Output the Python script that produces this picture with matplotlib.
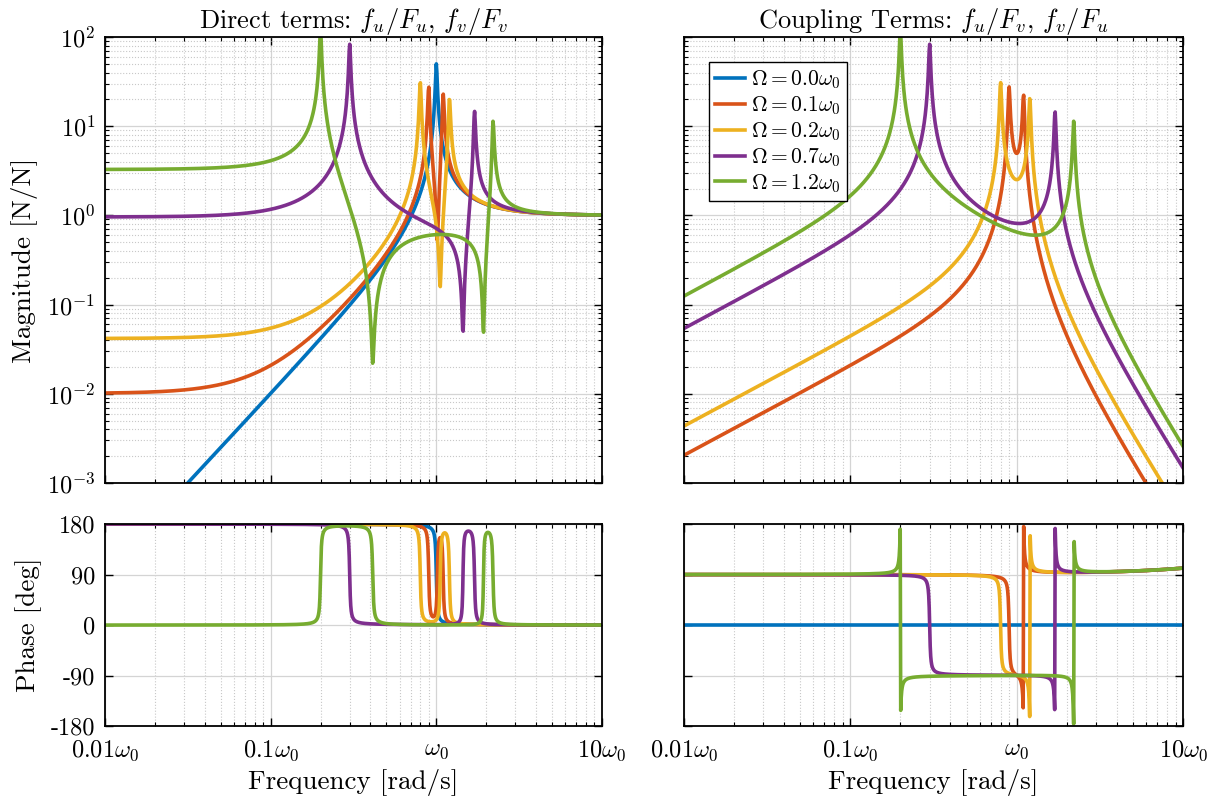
import numpy as np
import matplotlib.pyplot as plt
from matplotlib.ticker import LogLocator, FixedLocator, NullFormatter, FixedFormatter

plt.rcParams['font.family'] = 'serif'
plt.rcParams['font.serif'] = ['cmr10']
plt.rcParams['mathtext.fontset'] = 'cm'
plt.rcParams['axes.unicode_minus'] = False
plt.rcParams['axes.formatter.use_mathtext'] = True

# NOTE: the curves are not digitized points. They are computed from the
# rotating-frame force transfer functions, using parameters
# (the rotation speeds in the legend, damping ~1% from the 50x peak at w0).
omegas = [0.0, 0.1, 0.2, 0.7, 1.2]
xi = 0.01
labels = [r'$\Omega = 0.0\omega_0$', r'$\Omega = 0.1\omega_0$', r'$\Omega = 0.2\omega_0$',
          r'$\Omega = 0.7\omega_0$', r'$\Omega = 1.2\omega_0$']
colors = ['#0072BD', '#D95319', '#EDB120', '#7E2F8E', '#77AC30']

freq_ticks = [0.01, 0.1, 1, 10]
freq_labels = [r'$0.01\omega_0$', r'$0.1\omega_0$', r'$\omega_0$', r'$10\omega_0$']
phase_ticks = [-180, -90, 0, 90, 180]
phase_labels = ['-180', '-90', '0', '90', '180']

w = np.logspace(-2, 1, 1000)
s = 1j * w


def force_tf(W):
    a = s**2 + 2*xi*s + 1 - W**2
    D = a**2 + (2*W*s)**2
    Gd = 1 - (1 + 2*xi*s) * a / D
    Gc = (1 + 2*xi*s) * (2*W*s) / D
    return Gd, Gc


fig = plt.figure(figsize=(12.21, 8.05), dpi=100)
ax_md = fig.add_axes([0.086, 0.400, 0.407, 0.554])
ax_mc = fig.add_axes([0.560, 0.400, 0.409, 0.554])
ax_pd = fig.add_axes([0.086, 0.098, 0.407, 0.251])
ax_pc = fig.add_axes([0.560, 0.098, 0.409, 0.251])

for W, lab, c in zip(omegas, labels, colors):
    Gd, Gc = force_tf(W)
    mag_c = np.abs(Gc)
    ph_c = np.where(mag_c == 0, 0.0, np.angle(Gc, deg=True))
    mag_c[mag_c == 0] = np.nan
    ax_md.plot(w, np.abs(Gd), color=c, lw=2.6)
    ax_mc.plot(w, mag_c, color=c, lw=2.6, label=lab)
    ax_pd.plot(w, np.angle(Gd, deg=True), color=c, lw=2.6)
    ax_pc.plot(w, ph_c, color=c, lw=2.6)

for ax in [ax_md, ax_mc, ax_pd, ax_pc]:
    ax.set_xscale('log')
    ax.set_xlim(0.01, 10)
    ax.xaxis.set_major_locator(FixedLocator(freq_ticks))
    ax.xaxis.set_minor_locator(LogLocator(base=10, subs=np.arange(2, 10)))
    ax.xaxis.set_minor_formatter(NullFormatter())
    ax.grid(True, which='major', color='#d4d4d4', lw=0.9)
    ax.grid(True, which='minor', axis='x', color='#c8c8c8', lw=0.8, ls=':')
    ax.tick_params(which='both', direction='in', top=True, right=True, labelsize=17.5)
    ax.tick_params(axis='y', which='major', pad=7)
    ax.tick_params(axis='x', which='major', pad=9)
    ax.tick_params(which='major', length=6, width=1.0)
    ax.tick_params(which='minor', length=3, width=0.8)
    for sp in ax.spines.values():
        sp.set_linewidth(1.3)
    ax.set_axisbelow(True)

for ax in [ax_md, ax_mc]:
    ax.set_yscale('log')
    ax.set_ylim(1e-3, 1e2)
    ax.yaxis.set_major_locator(LogLocator(base=10, numticks=10))
    ax.yaxis.set_minor_locator(LogLocator(base=10, subs=np.arange(2, 10), numticks=20))
    ax.yaxis.set_minor_formatter(NullFormatter())
    ax.grid(True, which='minor', axis='y', color='#c8c8c8', lw=0.8, ls=':')
    ax.set_xticklabels([])

for ax in [ax_pd, ax_pc]:
    ax.set_ylim(-180, 180)
    ax.yaxis.set_major_locator(FixedLocator(phase_ticks))
    ax.xaxis.set_major_formatter(FixedFormatter(freq_labels))
    ax.set_xlabel('Frequency [rad/s]', fontsize=19.5, labelpad=4)

ax_pd.yaxis.set_major_formatter(FixedFormatter(phase_labels))
ax_mc.set_yticklabels([])
ax_pc.set_yticklabels([])

ax_md.set_ylabel('Magnitude [N/N]', fontsize=19.5, labelpad=6)
ax_pd.set_ylabel('Phase [deg]', fontsize=19.5, labelpad=6)
ax_md.set_title(r'Direct terms: $f_u/F_u$, $f_v/F_v$', fontsize=19, pad=6)
ax_mc.set_title(r'Coupling Terms: $f_u/F_v$, $f_v/F_u$', fontsize=19, pad=6)

leg = ax_mc.legend(loc='upper left', fontsize=15.5, frameon=True, fancybox=False,
                   edgecolor='black', framealpha=1, handlelength=1.4,
                   handletextpad=0.25, borderpad=0.3, labelspacing=0.15,
                   borderaxespad=0, bbox_to_anchor=(0.05, 0.944))
leg.get_frame().set_linewidth(1.0)

fig.savefig('out.png', dpi=100)
